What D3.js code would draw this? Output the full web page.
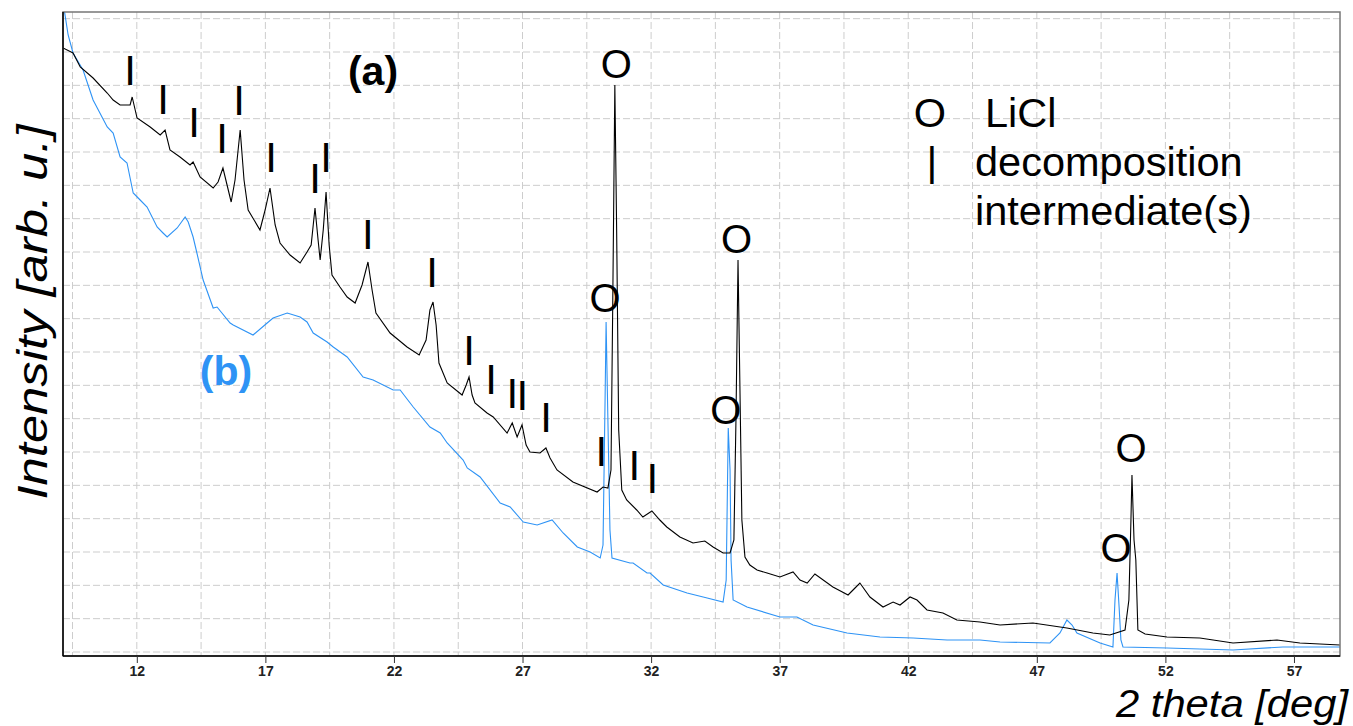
<!DOCTYPE html>
<html>
<head>
<meta charset="utf-8">
<script src="https://cdn.jsdelivr.net/npm/d3@7/dist/d3.min.js"></script>
<style>
  body { margin: 0; background: #fff; }
  svg { display: block; font-family: "Liberation Sans", Arial, sans-serif; }
  .grid line { stroke: #cdcdcd; stroke-width: 1; stroke-dasharray: 7,3; }
  .x.axis line { stroke: #333; }
  .x.axis path { display: none; }
</style>
</head>
<body>
<div class="graph--xrd"></div>
<script>
// 2 theta [deg] and intensity (arb. u.) for sample (a), black
var thetaA = [9.13, 9.52, 9.80, 10.30, 10.85, 11.08, 11.35, 11.74, 11.82, 12.01, 12.52, 12.91, 13.10, 13.29,
  13.68, 14.07, 14.19, 14.46, 14.97, 15.16, 15.35, 15.51, 15.67, 15.82, 16.02, 16.17, 16.33, 16.79, 16.99,
  17.18, 17.38, 17.57, 17.96, 18.35, 18.62, 18.78, 18.93, 19.05, 19.13, 19.25, 19.36, 19.48, 19.59, 19.90,
  20.18, 20.49, 20.76, 20.99, 21.15, 21.30, 21.85, 22.51, 22.98, 23.25, 23.40, 23.52, 23.64, 23.75, 24.07,
  24.65, 24.81, 24.92, 25.04, 25.15, 25.62, 25.86, 26.40, 26.60, 26.79, 26.98, 27.14, 27.29, 27.68, 27.91,
  28.07, 28.34, 28.96, 29.90, 30.13, 30.32, 30.44, 30.51, 30.59, 30.66, 30.74, 30.86, 31.05, 31.44, 31.68,
  32.03, 32.34, 32.61, 33.12, 33.63, 34.09, 34.41, 34.80, 35.07, 35.22, 35.30, 35.38, 35.45, 35.53, 35.65,
  35.84, 36.12, 36.51, 37.01, 37.52, 37.79, 38.07, 38.37, 39.07, 39.66, 39.93, 40.12, 40.51, 41.02, 41.41,
  41.68, 42.07, 42.34, 42.73, 43.35, 43.89, 44.79, 45.57, 46.85, 48.17, 49.18, 49.84, 50.43, 50.58, 50.66,
  50.70, 50.78, 50.85, 50.93, 51.21, 52.06, 53.34, 54.63, 56.34, 57.23, 58.79];
var intensityA = [1812, 1797, 1755, 1722, 1677, 1656, 1641, 1641, 1665, 1602, 1575, 1551, 1566, 1506,
  1485, 1461, 1470, 1425, 1392, 1410, 1452, 1401, 1350, 1416, 1566, 1416, 1326, 1266, 1326,
  1392, 1281, 1227, 1191, 1167, 1200, 1221, 1332, 1236, 1176, 1266, 1380, 1221, 1131, 1095,
  1065, 1047, 1101, 1170, 1086, 1017, 957, 915, 891, 936, 1026, 1050, 981, 867, 807,
  771, 801, 825, 771, 747, 717, 705, 657, 687, 645, 681, 621, 600, 597, 612,
  582, 546, 510, 480, 495, 492, 546, 1056, 1701, 1266, 666, 486, 456, 426, 405,
  423, 396, 375, 345, 327, 333, 315, 297, 297, 336, 696, 1176, 816, 396, 285,
  261, 246, 237, 225, 240, 216, 207, 234, 195, 171, 192, 207, 165, 135, 150,
  141, 165, 156, 126, 117, 96, 90, 81, 87, 72, 57, 51, 66, 156, 396,
  531, 336, 276, 66, 54, 45, 42, 27, 36, 27, 21];

// sample (b), blue
var thetaB = [9.13, 9.33, 9.52, 9.91, 10.30, 10.85, 11.08, 11.35, 11.62, 11.86, 12.13, 12.40, 12.79, 13.02,
  13.18, 13.57, 13.88, 14.00, 14.19, 14.31, 14.58, 14.97, 15.12, 15.63, 15.75, 16.52, 17.07, 17.30, 17.85,
  18.35, 18.62, 18.86, 19.40, 19.64, 20.18, 20.80, 21.19, 21.97, 22.24, 22.75, 23.40, 23.80, 24.07, 24.69,
  24.85, 25.35, 26.13, 26.52, 27.03, 27.57, 28.15, 28.58, 29.13, 29.63, 30.02, 30.13, 30.21, 30.25, 30.32,
  30.40, 30.48, 31.18, 31.30, 31.84, 31.96, 32.47, 33.40, 34.18, 34.80, 34.92, 35.00, 35.07, 35.11, 35.19,
  35.73, 37.01, 37.67, 38.30, 39.62, 40.90, 42.19, 43.51, 44.79, 45.57, 47.51, 47.90, 48.17, 48.37, 48.56,
  49.46, 49.96, 50.04, 50.12, 50.20, 50.27, 50.35, 52.06, 54.63, 56.57, 58.79];
var intensityB = [1950, 1851, 1797, 1746, 1656, 1575, 1557, 1485, 1467, 1377, 1356, 1335, 1275, 1257,
  1245, 1272, 1305, 1290, 1245, 1206, 1116, 1032, 1035, 987, 981, 951, 987, 1002, 1017,
  1005, 990, 957, 930, 915, 885, 825, 816, 786, 786, 735, 675, 657, 627, 576,
  552, 525, 447, 435, 390, 381, 396, 357, 315, 300, 282, 321, 756, 990, 696,
  366, 282, 267, 267, 237, 237, 201, 177, 162, 150, 216, 672, 546, 276, 156,
  135, 105, 105, 81, 57, 45, 42, 36, 36, 30, 27, 57, 96, 81, 57,
  27, 15, 156, 237, 135, 36, 15, 12, 6, 15, 15];

// "I" marks: decomposition intermediate(s), [2theta, height]
var markTheta = [11.74, 13.02, 14.23, 15.32, 15.98, 17.22, 18.93, 19.36, 20.98, 23.48, 24.92, 25.78, 26.60, 26.99, 27.92, 30.06, 31.35, 32.05];
var markHeight = [1746, 1659, 1590, 1542, 1656, 1485, 1422, 1485, 1254, 1140, 906, 819, 777, 771, 705, 603, 561, 522];

// "O" marks: LiCl
var liclTheta = [30.65, 35.32, 30.21, 34.91, 50.66, 50.08];
var liclHeight = [1764, 1240, 1062, 726, 612, 312];

var xTicks = [12, 17, 22, 27, 32, 37, 42, 47, 52, 57];
var xGrid = [9.5, 12, 14.5, 17, 19.5, 22, 24.5, 27, 29.5, 32, 34.5, 37, 39.5, 42, 44.5, 47, 49.5, 52, 54.5, 57];
var yGrid = [0, 100, 200, 300, 400, 500, 600, 700, 800, 900, 1000, 1100, 1200, 1300, 1400, 1500, 1600, 1700, 1800, 1900];

var width = 1353, height = 726;
var margin = { top: 12, left: 63, right: 13, bottom: 70 };

var svg = d3.select(".graph--xrd").append("svg")
    .attr("width", width)
    .attr("height", height);

var xScale = d3.scaleLinear()
    .domain([9.13, 58.79])
    .range([margin.left, width - margin.right]);
var yScale = d3.scaleLinear()
    .domain([-12, 1920])
    .range([height - margin.bottom, margin.top]);

svg.append("defs").append("clipPath")
    .attr("id", "plot-clip")
  .append("rect")
    .attr("x", margin.left)
    .attr("y", margin.top)
    .attr("width", width - margin.left - margin.right)
    .attr("height", height - margin.top - margin.bottom);

// Grid
var grid = svg.append("g").attr("class", "grid");
grid.selectAll(".vg").data(xGrid).enter().append("line")
    .attr("x1", function(d) { return xScale(d); })
    .attr("x2", function(d) { return xScale(d); })
    .attr("y1", margin.top)
    .attr("y2", height - margin.bottom);
grid.selectAll(".hg").data(yGrid).enter().append("line")
    .attr("x1", margin.left)
    .attr("x2", width - margin.right)
    .attr("y1", function(d) { return yScale(d); })
    .attr("y2", function(d) { return yScale(d); });

// Curves
var line = d3.line()
    .x(function(d) { return xScale(d[0]); })
    .y(function(d) { return yScale(d[1]); });

var curves = svg.append("g").attr("clip-path", "url(#plot-clip)");
curves.append("path")
    .datum(d3.zip(thetaB, intensityB))
    .attr("d", line)
    .attr("fill", "none")
    .attr("stroke", "#2e93f5")
    .attr("stroke-width", 1.1);
curves.append("path")
    .datum(d3.zip(thetaA, intensityA))
    .attr("d", line)
    .attr("fill", "none")
    .attr("stroke", "#000")
    .attr("stroke-width", 1.1);

// Frame
svg.append("rect")
    .attr("x", margin.left)
    .attr("y", margin.top)
    .attr("width", width - margin.left - margin.right)
    .attr("height", height - margin.top - margin.bottom)
    .attr("fill", "none")
    .attr("stroke", "#777")
    .attr("stroke-width", 1.5);
svg.append("line")
    .attr("x1", margin.left).attr("x2", margin.left)
    .attr("y1", margin.top).attr("y2", height - margin.bottom)
    .attr("stroke", "#000").attr("stroke-width", 1.5);
svg.append("line")
    .attr("x1", margin.left).attr("x2", width - margin.right)
    .attr("y1", height - margin.bottom).attr("y2", height - margin.bottom)
    .attr("stroke", "#000").attr("stroke-width", 1.5);

// X axis
var xAxis = d3.axisBottom(xScale)
    .tickValues(xTicks)
    .tickSize(7)
    .tickPadding(3)
    .tickFormat(d3.format("d"));
var xAxisEl = svg.append("g")
    .attr("class", "x axis")
    .attr("transform", "translate(0," + (height - margin.bottom) + ")")
    .call(xAxis);
xAxisEl.attr("font-size", null).attr("font-family", null);
xAxisEl.selectAll("text")
    .style("font-size", "14px")
    .style("font-weight", "bold")
    .attr("fill", "#222");

// Axis labels
svg.append("text")
    .attr("x", 1348)
    .attr("y", 717)
    .attr("text-anchor", "end")
    .attr("font-size", 38.5)
    .attr("font-style", "italic")
    .attr("textLength", 232)
    .attr("lengthAdjust", "spacingAndGlyphs")
    .text("2 theta [deg]");
svg.append("text")
    .attr("transform", "translate(47,312) rotate(-90)")
    .attr("text-anchor", "middle")
    .attr("font-size", 42)
    .attr("font-style", "italic")
    .attr("textLength", 375)
    .attr("lengthAdjust", "spacingAndGlyphs")
    .text("Intensity [arb. u.]");

// Peak markers
svg.selectAll(".mark-i").data(d3.zip(markTheta, markHeight)).enter().append("text")
    .attr("class", "mark-i")
    .attr("x", function(d) { return xScale(d[0]); })
    .attr("y", function(d) { return yScale(d[1]); })
    .attr("dy", "0.36em")
    .attr("text-anchor", "middle")
    .attr("font-size", 42)
    .text("I");
svg.selectAll(".mark-o").data(d3.zip(liclTheta, liclHeight)).enter().append("text")
    .attr("class", "mark-o")
    .attr("x", function(d) { return xScale(d[0]); })
    .attr("y", function(d) { return yScale(d[1]); })
    .attr("dy", "0.36em")
    .attr("text-anchor", "middle")
    .attr("font-size", 40)
    .text("O");

// Sample labels
svg.append("text")
    .attr("x", 373).attr("y", 85)
    .attr("text-anchor", "middle")
    .attr("font-size", 41)
    .attr("font-weight", "bold")
    .text("(a)");
svg.append("text")
    .attr("x", 226).attr("y", 385)
    .attr("text-anchor", "middle")
    .attr("font-size", 41)
    .attr("font-weight", "bold")
    .attr("fill", "#2e93f5")
    .text("(b)");

// Legend
var legend = svg.append("g").attr("font-size", 41.5);
legend.append("text").attr("x", 930).attr("y", 127).attr("text-anchor", "middle").text("O");
legend.append("text").attr("x", 985).attr("y", 127).text("LiCl");
legend.append("text").attr("x", 932).attr("y", 176).attr("text-anchor", "middle").text("|");
legend.append("text").attr("x", 975).attr("y", 176).text("decomposition");
legend.append("text").attr("x", 975).attr("y", 225).text("intermediate(s)");
</script>
</body>
</html>
